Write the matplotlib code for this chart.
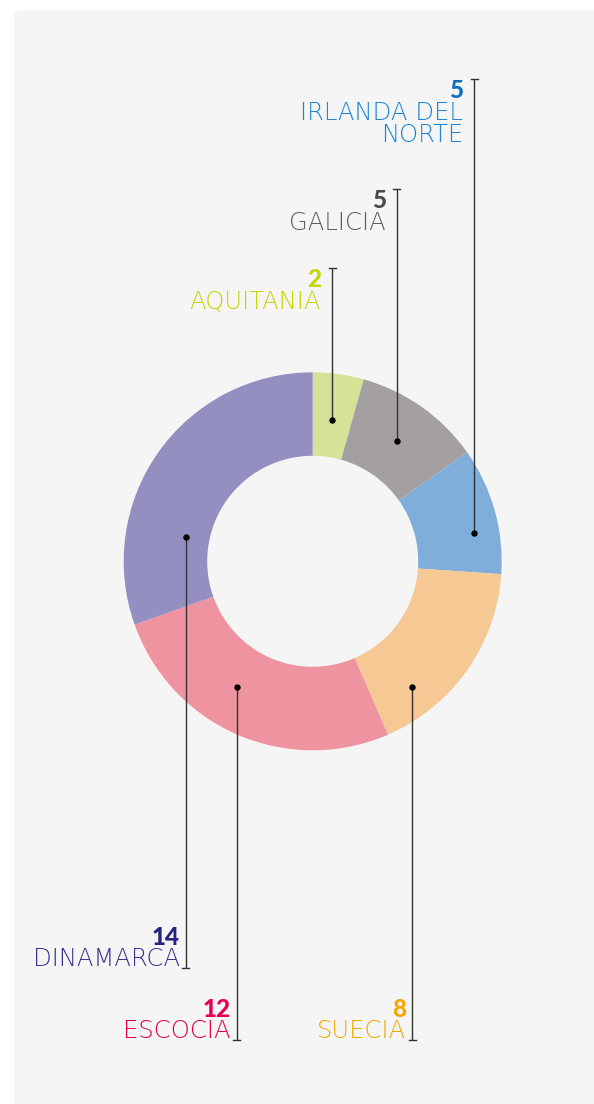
import matplotlib.pyplot as plt
import matplotlib.patches as mpatches
import numpy as np

# data
# ----------
regions = ["AQUITANIA", "GALICIA", "IRLANDA DEL\nNORTE", "SUECIA", "ESCOCIA", "DINAMARCA"]
counts = [2, 5, 5, 8, 12, 14]
slice_colors = ["#d6e295", "#a4a0a2", "#80aedb", "#f6c894", "#ee939f", "#948fc1"]
text_colors = ["#c4d600", "#5e5e5e", "#1e86d4", "#f5a800", "#e6004f", "#3a358f"]
num_colors = ["#c4d600", "#4a4a4a", "#0b6fc2", "#f5a800", "#e6004f", "#26227f"]

# leader layout: anchor angle (deg, clockwise from top), anchor radius (px),
# end of leader line (y, px) and which side the label sits on
anchor_angle = [7.8, 34.9, 80.1, 141.5, 211.2, 280.7]
anchor_radius = [143, 147, 164, 160, 147, 129]
leader_end = [268, 189, 79, 1040, 1040, 968]
label_above = [True, True, True, False, False, False]

# plot settings
# ----------
W, H = 594, 1104
cx, cy = 312.7, 561.3
r_out, r_in = 189, 105.5
line_color = "#333333"
label_font = "DejaVu Sans"
num_font = "Lato"
fsize = 17.5

fig = plt.figure(figsize=(W / 100, H / 100), dpi=100)
fig.patch.set_facecolor("white")
ax = fig.add_axes([0, 0, 1, 1])

# light panel behind the chart
panel = mpatches.FancyBboxPatch((14, 10), W + 20, H + 20,
                                boxstyle="round,pad=0,rounding_size=6",
                                fc="#f5f5f5", ec="none", zorder=0)
ax.add_patch(panel)

# donut (y axis is inverted, so counterclock here runs clockwise on screen)
wedges, _ = ax.pie(counts, colors=slice_colors, startangle=-90, counterclock=True,
                   center=(cx, cy), radius=r_out,
                   wedgeprops=dict(width=r_out - r_in, linewidth=0, zorder=1))

ax.set_xlim(0, W)
ax.set_ylim(H, 0)
ax.set_aspect("auto")
ax.axis("off")

# leaders and labels
# ----------
for i, name in enumerate(regions):
    a = np.deg2rad(anchor_angle[i])
    x = cx + anchor_radius[i] * np.sin(a)
    y = cy - anchor_radius[i] * np.cos(a)
    y_end = leader_end[i]

    ax.plot([x, x], [y, y_end], color=line_color, lw=1.0, zorder=3, solid_capstyle="butt")
    ax.plot([x - 3.5, x + 3.5], [y_end, y_end], color=line_color, lw=1.0, zorder=3)
    ax.plot(x, y, "o", color="black", ms=3.6, zorder=4)

    lines = name.split("\n")
    if label_above[i]:
        tx = x - 11
        num_base = y_end + 19
        text_bases = [num_base + 22 * (k + 1) for k in range(len(lines))]
    else:
        tx = x - 6
        text_bases = [y_end - 2]
        num_base = text_bases[0] - 21

    ax.text(tx, num_base, str(counts[i]), ha="right", va="baseline",
            fontsize=17.5, fontweight="black", family=num_font, color=num_colors[i])
    for line, base in zip(lines, text_bases):
        ax.text(tx, base, line, ha="right", va="baseline",
                fontsize=fsize, fontweight="light", family=label_font, color=text_colors[i])

fig.savefig("out.png", dpi=100, facecolor=fig.get_facecolor())
